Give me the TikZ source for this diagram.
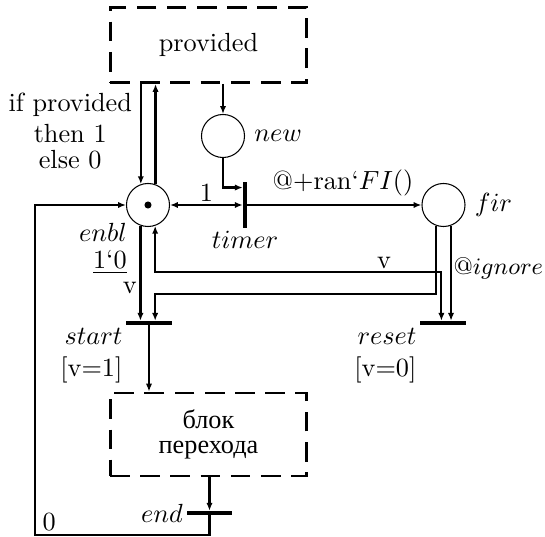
\documentclass[tikz,border=0pt]{standalone}
\usepackage{fontspec}
\newfontfamily\cyrfont{Liberation Serif}
\usepackage{tikz}
\usetikzlibrary{arrows.meta,positioning,calc}
\tikzset{
  place/.style={draw,circle,thin,minimum size=16.4pt,inner sep=0pt},
  vtrans/.style={fill,minimum width=1.3pt,minimum height=17.5pt,inner sep=0pt},
  htrans/.style={fill,minimum width=17.5pt,minimum height=1.3pt,inner sep=0pt},
  subnet/.style={draw,line width=1.1pt,dash pattern=on 7.5pt off 4pt,minimum width=75pt,minimum height=28.6pt,align=center},
  arc/.style={-{Latex[length=3pt,width=2.4pt]},line width=0.8pt},
  biarc/.style={{Latex[length=3pt,width=2.4pt]}-{Latex[length=3pt,width=2.4pt]},line width=0.8pt},
  lbl/.style={inner sep=1pt}
}

\begin{document}
\begin{tikzpicture}[x=0.381pt,y=-0.381pt]
  \useasboundingbox (0,0) rectangle (545,537);
  % subnets, places, transitions
  \node[subnet] (provided) at (208.5,45) {provided};
  \node[place] (enbl) at (148,205) {};
  \fill (enbl) circle (1.35pt);
  \node[place] (new) at (223,136) {};
  \node[place] (fir) at (443.5,205) {};
  \node[vtrans] (timer) at (245,205) {};
  \node[htrans] (start) at (149,323) {};
  \node[htrans] (reset) at (443,323) {};
  \node[subnet,minimum height=31.6pt,font=\cyrfont] (block) at (208.5,434.5) {блок\\[-2.5pt]перехода};
  \node[htrans] (endt) at (209.5,513) {};
  \coordinate (c0) at (35,535);
  \coordinate (vback) at (0,272);
  \coordinate (vfwd) at (0,294);
  % inscriptions
  \node[right] (newlbl) at (new.east) {$new$};
  \node[right] (firlbl) at (fir.east) {$fir$};
  \node[lbl,below] (timerlbl) at (timer.south) {$timer$};
  \node[lbl,anchor=north east,align=right] (enbllbl) at ([xshift=-1pt]enbl.south west) {$enbl$\\[-2pt]\underline{1‘0}};
  \node[lbl,anchor=north east,align=right] (startlbl) at ([yshift=-1pt]start.west) {$start$\\{[v=1]}};
  \node[lbl,anchor=north east,align=right] (resetlbl) at ([yshift=-1pt]reset.west) {$reset$\\{[v=0]}};
  \node[lbl,left] (endlbl) at (endt.west) {$end$};
  % arcs
  \draw[arc] (enbl.109.5 |- provided.south) -- node[lbl,left=2pt,pos=0.47,align=center]{if provided\\then 1\\[-2pt]else 0} (enbl.109.5);
  \draw[arc] (enbl.70.5) -- (enbl.70.5 |- provided.south);
  \draw[arc] (provided.south -| new) -- (new);
  \draw[arc] (new.south) |- ([yshift=-2.3pt]timer.north west);
  \draw[biarc] (enbl) -- node[lbl,above]{1} (timer);
  \draw[arc] (timer) -- node[lbl,above=2pt,pos=0.55]{@+ran‘$FI()$} (fir);
  \draw[arc] (endt) |- (c0) node[lbl,above right,xshift=1.5pt]{0} |- (enbl);
  \draw[arc] (enbl.250.5) -- node[lbl,left,pos=0.66]{v} (enbl.250.5 |- start.north);
  \draw[biarc] (enbl.289.5) -- (enbl.289.5 |- vback) -| node[lbl,above,pos=0.4]{v} ([xshift=-0.6pt]reset.north);
  \draw[arc] (fir.250) -- (fir.250 |- vfwd) -| (enbl.289.5 |- start.north);
  \draw[arc] (fir.290) -- node[lbl,right,pos=0.45,inner sep=0.6pt,font=\fontsize{9.2pt}{11pt}\selectfont]{@$ignore$} (fir.290 |- reset.north);
  \draw[arc] (start) -- (start |- block.north);
  \draw[arc] (block.south -| endt) -- (endt);
\end{tikzpicture}
\end{document}
